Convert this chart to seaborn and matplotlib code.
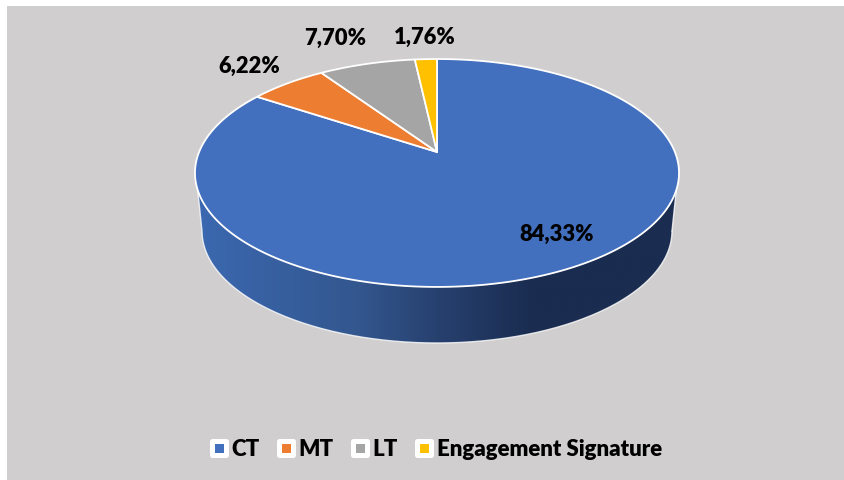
import numpy as np
import matplotlib
matplotlib.use('Agg')
import matplotlib.pyplot as plt
import seaborn as sns
from matplotlib.colors import LinearSegmentedColormap
from matplotlib.lines import Line2D
from matplotlib.markers import MarkerStyle
from matplotlib.patches import PathPatch, Rectangle
from matplotlib.path import Path
from matplotlib.transforms import Affine2D, Transform

labels = ['CT', 'MT', 'LT', 'Engagement Signature']
values = [84.33, 6.22, 7.70, 1.76]
colors = ['#4270BF', '#ED7D31', '#A5A5A5', '#FFC000']


class Tilt(Transform):
    # perspective of the unit disc, the apex is not at the middle of the ellipse
    input_dims = output_dims = 2
    is_affine = False

    def transform_non_affine(self, values):
        xy = np.asarray(values, dtype=float)
        w = 1 + 0.184 * xy[:, 1]
        return np.column_stack([437 + 237.9 * xy[:, 0] / w, 152 - 110.1 * xy[:, 1] / w])

    def transform_path_non_affine(self, path):
        pts = path.to_polygons(Affine2D().scale(2000), closed_only=False)[0] / 2000
        return Path(self.transform_non_affine(pts))


sns.set_theme(style='white')
plt.rcParams['font.family'] = ['Lato', 'DejaVu Sans']

fig, ax = plt.subplots(figsize=(8.45, 4.80), dpi=100)
fig.subplots_adjust(0, 0, 1, 1)

wedges, _ = ax.pie(values, colors=sns.color_palette(colors), startangle=90, counterclock=False,
                   wedgeprops={'edgecolor': 'white', 'linewidth': 1.3, 'zorder': 3})
tilt = Tilt()
for w in wedges:
    w.set_transform(tilt + ax.transData)

# side wall of the disc: top rim left to right, then base rim right to left
t_top = np.linspace(np.arcsin(17 / 114), np.pi - np.arcsin(17 / 114), 200)
t_low = np.linspace(0, np.pi, 200)
top_x, top_y = 437 - 242 * np.cos(t_top), 173 + 114 * np.sin(t_top)
low_x, low_y = 437 + 235 * np.cos(t_low), 231 + 112 * np.sin(t_low)
wall = np.column_stack([np.r_[top_x, low_x], np.r_[top_y, low_y]])
wall_cmap = LinearSegmentedColormap.from_list(
    'wall', [(0, '#3B68B0'), (0.33, '#33578F'), (0.5, '#27416F'), (0.7, '#1A2C50'), (1, '#1A2C50')])
grad = ax.imshow(np.linspace(0, 1, 256)[None, :], cmap=wall_cmap, aspect='auto',
                 extent=(197, 677, 343, 173), zorder=1)
grad.set_clip_path(PathPatch(Path(wall, closed=True), transform=ax.transData))
ax.plot(np.r_[top_x[0], low_x[::-1]], np.r_[top_y[0], low_y[::-1]], color='white', lw=1, alpha=0.8, zorder=2)
ax.plot(np.r_[low_x[0], top_x[-1]], np.r_[low_y[0], top_y[-1]], color='white', lw=1, alpha=0.8, zorder=2)

ax.set_aspect('auto')
ax.set_xlim(0, 845)
ax.set_ylim(480, 0)
ax.set_frame_on(False)
ax.add_patch(Rectangle((7, 6), 838, 474, facecolor='#D0CECE', edgecolor='none', zorder=0))

text_pos = [(557, 234), (249, 66), (335, 38), (425, 37)]
for v, (x, y) in zip(values, text_pos):
    ax.text(x, y, f'{v:.2f}%'.replace('.', ','), ha='center', va='center',
            fontsize=15.8, fontweight='heavy', color='black', zorder=4)

marker = MarkerStyle('s', joinstyle='round')
handles = [Line2D([], [], linestyle='none', marker=marker, markersize=9.4, markerfacecolor=c,
                  markeredgecolor='white', markeredgewidth=3.6) for c in colors]
ax.legend(handles, labels, loc='center', bbox_to_anchor=(436 / 845, 1 - 449 / 480), ncol=4, frameon=False,
          prop={'size': 16, 'weight': 'heavy'}, handletextpad=0.18, columnspacing=0.77, handlelength=0.8,
          labelcolor='black')

plt.savefig('out.png', dpi=100)
plt.close()
